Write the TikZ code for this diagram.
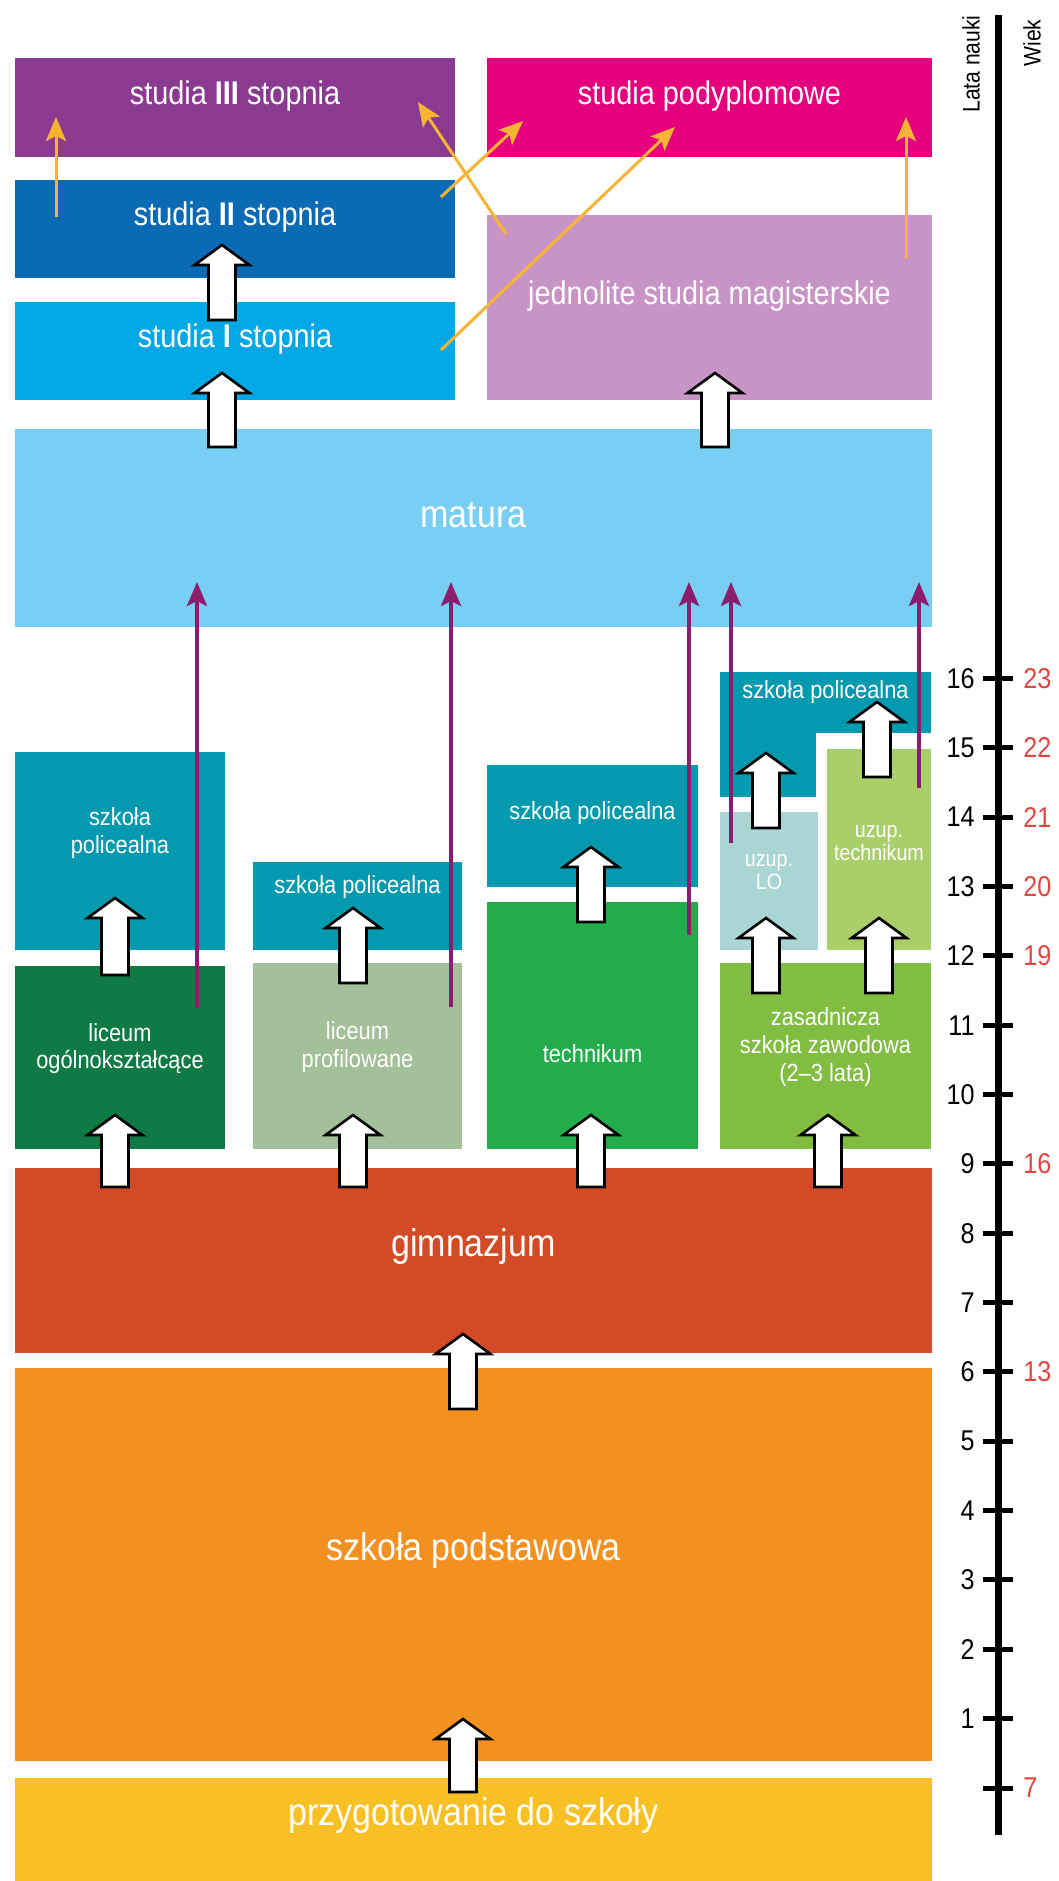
\documentclass[tikz,border=0pt]{standalone}
\usepackage{fontspec}
\setmainfont[FakeStretch=0.88]{Liberation Sans}
\usetikzlibrary{arrows.meta,fit,calc}

\definecolor{cIII}{HTML}{8A3B91}
\definecolor{cpody}{HTML}{E5007D}
\definecolor{cII}{HTML}{0A6AB4}
\definecolor{cI}{HTML}{00A8E6}
\definecolor{cjed}{HTML}{C893C5}
\definecolor{cmat}{HTML}{78CFF3}
\definecolor{cpol}{HTML}{0399AE}
\definecolor{clo}{HTML}{107A45}
\definecolor{clp}{HTML}{A4C09A}
\definecolor{ctech}{HTML}{23AC4C}
\definecolor{cuzlo}{HTML}{A9D6D5}
\definecolor{cuzt}{HTML}{A9CF6B}
\definecolor{czsz}{HTML}{80BD41}
\definecolor{cgim}{HTML}{D24A26}
\definecolor{cpodst}{HTML}{F39120}
\definecolor{cprz}{HTML}{F8C024}
\definecolor{yarrow}{HTML}{F7B334}
\definecolor{parrow}{HTML}{8C1C6D}
\definecolor{cred}{HTML}{E0453F}

% white block arrow from tail #1 up to tip #2
\newcommand\blkarr[2]{%
  \draw[blk] let \p1=(#1), \p2=(#2) in
    (\x1-6.75pt,\y1) -- (\x1-6.75pt,\y2-10pt) -- (\x1-13.75pt,\y2-10pt)
    -- (\x1,\y2) -- (\x1+13.75pt,\y2-10pt) -- (\x1+6.75pt,\y2-10pt)
    -- (\x1+6.75pt,\y1) -- cycle;}

\begin{document}
\begin{tikzpicture}[x=0.5pt,y=-0.5pt,>={Stealth[length=12pt,width=10pt,inset=2.5pt]},
        box/.style={inner sep=0pt,text=white,align=center},
        lbl/.style={inner sep=1pt,text=white,align=center},
        big/.style={font=\fontsize{19.3}{22}\selectfont},
        mid/.style={font=\fontsize{16.4}{19}\selectfont},
        small/.style={font=\fontsize{12.4}{13.8}\selectfont},
        tiny/.style={font=\fontsize{11.2}{11.5}\selectfont},
        num/.style={font=\fontsize{14.3}{16}\selectfont,inner sep=1pt},
        yarr/.style={->,draw=yarrow,line width=1.5pt},
        parr/.style={->,draw=parrow,line width=1.8pt},
        blk/.style={draw=black,fill=white,line width=1.3pt,line join=miter},
        tick/.style={line width=2.5pt}]

        \useasboundingbox[fill=white] (0,0) rectangle (1059,1881);

        % studia
        \node[box,mid,fill=cIII,fit={(15,58) (455,157)}]    (st3)  {studia \textbf{III} stopnia};
        \node[box,mid,fill=cpody,fit={(487,58) (932,157)}]  (pody) {studia podyplomowe};
        \node[box,mid,fill=cII,fit={(15,180) (455,278)}]    (st2)  {studia \textbf{II} stopnia};
        \node[box,mid,fill=cI,fit={(15,302) (455,400)}]     (st1)  {studia \textbf{I} stopnia};
        \node[box,mid,fill=cjed,fit={(487,215) (932,400)}]  (jed)  {jednolite studia magisterskie};
        \node[box,big,fill=cmat,fit={(15,429) (932,627)}]   (mat)  {matura};

        % szkoly ponadgimnazjalne
        \node[box,fill=cpol,fit={(15,752) (225,950)}]       (pol1) {};
        \node[lbl,small]  (pol1t) at ($(pol1.center)+(0,-18)$) {szkoła\\policealna};
        \node[box,small,fill=clo,fit={(15,966) (225,1149)}] (lo)   {liceum\\ogólnokształcące};
        \node[box,fill=cpol,fit={(253,862) (462,950)}]      (pol2) {};
        \node[lbl,small]  (pol2t) at ($(pol2.center)+(0,-19)$) {szkoła policealna};
        \node[box,small,fill=clp,fit={(253,963) (462,1149)}] (lp)  {liceum\\profilowane};
        \node[box,fill=cpol,fit={(487,765) (698,887)}]      (pol3) {};
        \node[lbl,small]  (pol3t) at ($(pol3.center)+(0,-13)$) {szkoła policealna};
        \node[box,fill=ctech,fit={(487,902) (698,1149)}]    (tech) {};
        \node[lbl,small]  (techt) at ($(tech.center)+(0,28)$)  {technikum};
        \node[box,fill=cpol,fit={(720,672) (931,733)}]      (pol4) {};
        \fill[cpol] (pol4.south west) rectangle (816,797);
        \node[lbl,small]  (pol4t) at ($(pol4.center)+(0,-10)$) {szkoła policealna};
        \node[box,fill=cuzlo,fit={(720,812) (818,950)}]     (uzlo) {};
        \node[lbl,tiny]   (uzlot) at ($(uzlo.center)+(0,-9)$)  {uzup.\\LO};
        \node[box,tiny,fill=cuzt,fit={(827,749) (931,950)}] (uzt)  {uzup.\\technikum};
        \node[box,small,fill=czsz,fit={(720,963) (931,1149)}] (zsz) {zasadnicza\\szkoła zawodowa\\(2--3 lata)};

        % gimnazjum, podstawowa
        \node[box,big,fill=cgim,fit={(15,1168) (932,1353)}]   (gim)   {gimnazjum};
        \node[box,big,fill=cpodst,fit={(15,1368) (932,1761)}] (podst) {szkoła podstawowa};
        \node[box,big,fill=cprz,fit={(15,1778) (932,1881)}]   (prz)   {przygotowanie do szkoły};

        % matura paths
        \coordinate (p1) at (197,1008);  \coordinate (q1) at (197,582);
        \coordinate (p2) at (451,1007);  \coordinate (q2) at (451,582);
        \coordinate (p3) at (689,935);   \coordinate (q3) at (689,582);
        \coordinate (p4) at (731,843);   \coordinate (q4) at (731,582);
        \coordinate (p5) at (919,788);   \coordinate (q5) at (919,582);
        \path
          (p1) edge[parr] (q1)
          (p2) edge[parr] (q2)
          (p3) edge[parr] (q3)
          (p4) edge[parr] (q4)
          (p5) edge[parr] (q5)
        ;

        % studia paths
        \coordinate (y1) at (56,217);   \coordinate (z1) at (56,117);
        \coordinate (y2) at (506,234);  \coordinate (z2) at (418,102);
        \coordinate (y3) at (441,197);  \coordinate (z3) at (523,121);
        \coordinate (y4) at (441,350);  \coordinate (z4) at (675,127);
        \coordinate (y5) at (906,258);  \coordinate (z5) at (906,117);
        \path
          (y1) edge[yarr] (z1)
          (y2) edge[yarr] (z2)
          (y3) edge[yarr] (z3)
          (y4) edge[yarr] (z4)
          (y5) edge[yarr] (z5)
        ;

        % block arrows
        \coordinate (a1) at (222,320);  \coordinate (b1) at (222,245);
        \coordinate (a2) at (222,447);  \coordinate (b2) at (222,373);
        \coordinate (a3) at (715,447);  \coordinate (b3) at (715,373);
        \coordinate (a4) at (115,975);  \coordinate (b4) at (115,898);
        \coordinate (a5) at (353,983);  \coordinate (b5) at (353,908);
        \coordinate (a6) at (591,922);  \coordinate (b6) at (591,847);
        \coordinate (a7) at (766,993);  \coordinate (b7) at (766,918);
        \coordinate (a8) at (879,993);  \coordinate (b8) at (879,918);
        \coordinate (a9) at (766,828);  \coordinate (b9) at (766,753);
        \coordinate (a10) at (877,777); \coordinate (b10) at (877,702);
        \coordinate (a11) at (115,1187); \coordinate (b11) at (115,1115);
        \coordinate (a12) at (353,1187); \coordinate (b12) at (353,1115);
        \coordinate (a13) at (591,1187); \coordinate (b13) at (591,1115);
        \coordinate (a14) at (828,1187); \coordinate (b14) at (828,1115);
        \coordinate (a15) at (463,1409); \coordinate (b15) at (463,1334);
        \coordinate (a16) at (463,1792); \coordinate (b16) at (463,1719);
        \foreach \i in {1,...,16} {\blkarr{a\i}{b\i}}

        % os czasu
        \coordinate (top) at (998,15);
        \coordinate (bot) at (998,1835);
        \draw[line width=3.5pt] (top) -- (bot);
        \foreach \n in {0,...,16}
          \draw[tick] (983,{1788-69.35*\n}) -- (1013,{1788-69.35*\n});
        \foreach \n in {1,...,16}
          \node[num,anchor=east] (l\n) at (977,{1788-69.35*\n}) {\n};
        \foreach \n/\w in {0/7,6/13,9/16,12/19,13/20,14/21,15/22,16/23}
          \node[num,anchor=west,text=cred] (w\n) at (1021,{1788-69.35*\n}) {\w};
        \node[rotate=90,font=\fontsize{12}{13}\selectfont] (lata) at (971,64) {Lata nauki};
        \node[rotate=90,font=\fontsize{12}{13}\selectfont] (wiek) at (1032,43) {Wiek};
      \end{tikzpicture}
\end{document}
